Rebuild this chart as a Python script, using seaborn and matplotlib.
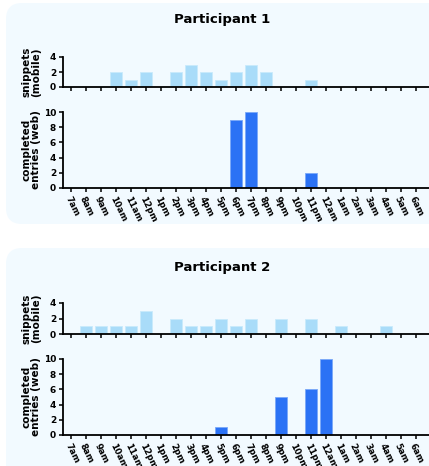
import matplotlib
matplotlib.use("Agg")
import matplotlib.pyplot as plt
from matplotlib.patches import FancyBboxPatch
import seaborn as sns

hours = ["7am", "8am", "9am", "10am", "11am", "12pm", "1pm", "2pm", "3pm", "4pm",
         "5pm", "6pm", "7pm", "8pm", "9pm", "10pm", "11pm", "12am", "1am", "2am",
         "3am", "4am", "5am", "6am"]

p1_snippets = [0, 0, 0, 2, 1, 2, 0, 2, 3, 2, 1, 2, 3, 2, 0, 0, 1, 0, 0, 0, 0, 0, 0, 0]
p1_web = [0, 0, 0, 0, 0, 0, 0, 0, 0, 0, 0, 9, 10, 0, 0, 0, 2, 0, 0, 0, 0, 0, 0, 0]
p2_snippets = [0, 1, 1, 1, 1, 3, 0, 2, 1, 1, 2, 1, 2, 0, 2, 0, 2, 0, 1, 0, 0, 1, 0, 0]
p2_web = [0, 0, 0, 0, 0, 0, 0, 0, 0, 0, 1, 0, 0, 0, 5, 0, 6, 10, 0, 0, 0, 0, 0, 0]

participants = ["Participant 1", "Participant 2"]

LIGHT = "#a9dcf9"
DARK = "#2b72f5"
PANEL = "#f2faff"

sns.set_style("ticks")
plt.rcParams['font.family'] = ['DejaVu Sans']
plt.rcParams['font.weight'] = 'bold'
plt.rcParams['text.color'] = 'black'
plt.rcParams['axes.labelcolor'] = 'black'
plt.rcParams['xtick.color'] = 'black'
plt.rcParams['ytick.color'] = 'black'

W, H = 429, 466
fig = plt.figure(figsize=(W / 100, H / 100), dpi=100)

# panels behind each participant (pixel coords, origin bottom-left)
for top, bottom in [(3, 224), (248, 480)]:
    box = FancyBboxPatch((6, H - bottom), 450, bottom - top,
                         boxstyle="round,pad=0,rounding_size=16",
                         transform=None, facecolor=PANEL, edgecolor="none", zorder=-5)
    fig.patches.append(box)


def px_axes(top, bottom, left=63, right=W):
    return fig.add_axes([left / W, 1 - bottom / H, (right - left) / W, (bottom - top) / H])


def style_axes(ax, ymax, yticks, show_x):
    ax.set_facecolor("none")
    ax.set_xlim(-0.55, 23.87)
    ax.set_ylim(0, ymax)
    ax.set_yticks(yticks)
    sns.despine(ax=ax)
    for s in ["left", "bottom"]:
        ax.spines[s].set_linewidth(1.3)
        ax.spines[s].set_color("black")
    ax.tick_params(axis="both", length=3, width=1.1, color="black", labelsize=6.5, pad=2)
    ax.set_xlabel("")
    ax.set_xticks(range(len(hours)))
    if show_x:
        ax.set_xticklabels(hours, rotation=-64, ha="left", rotation_mode="anchor",
                           fontsize=6.3, fontweight="bold")
    else:
        ax.set_xticklabels([])
    for lab in ax.get_yticklabels():
        lab.set_fontweight("bold")


layout = [
    (p1_snippets, p1_web, 20, (57, 87), (112, 188)),
    (p2_snippets, p2_web, 267, (303, 334), (359, 435)),
]

for name, (snip, web, title_y, snip_box, web_box) in zip(participants, layout):
    fig.text(222 / W, 1 - title_y / H, name, ha="center", va="center",
             fontsize=9.5, fontweight="bold", color="black")

    ax1 = px_axes(*snip_box)
    sns.barplot(x=hours, y=snip, color=LIGHT, saturation=1, width=0.78,
                edgecolor="#c9eafc", linewidth=0.6, ax=ax1)
    style_axes(ax1, 4, [0, 2, 4], False)
    ax1.set_ylabel("snippets\n(mobile)", fontsize=7.5, fontweight="bold", linespacing=0.95)
    ax1.yaxis.set_label_coords(-0.06, 0.5)

    ax2 = px_axes(*web_box)
    sns.barplot(x=hours, y=web, color=DARK, saturation=1, width=0.78,
                edgecolor="#7aa8f8", linewidth=0.6, ax=ax2)
    style_axes(ax2, 10, [0, 2, 4, 6, 8, 10], True)
    ax2.set_ylabel("completed\nentries (web)", fontsize=7.5, fontweight="bold", linespacing=0.95)
    ax2.yaxis.set_label_coords(-0.06, 0.5)

fig.savefig("out.png", dpi=100, facecolor="white")
